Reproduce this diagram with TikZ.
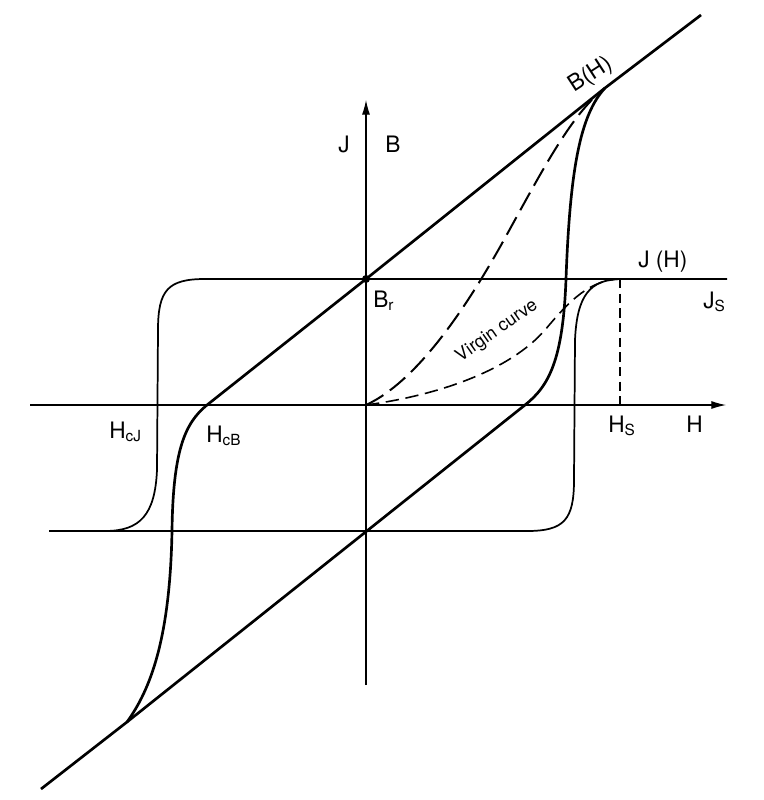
\documentclass[tikz,border=0pt]{standalone}
\usepackage{fontspec}
\setmainfont{TeX Gyre Heros}
\usetikzlibrary{arrows.meta}
\newcommand\lsub[1]{\raisebox{-0.3ex}{\fontsize{11.5}{12}\selectfont #1}}
\begin{document}
\begin{tikzpicture}[x=0.75pt,y=-0.75pt,
  axis/.style={line width=0.8pt},
  axisarrow/.style={axis,-{Latex[length=11pt,width=6pt]}},
  jloop/.style={line width=1.3pt,line join=round},
  bloop/.style={line width=2pt,line join=round},
  bvirgin/.style={line width=1.5pt,dash pattern=on 15pt off 6pt},
  jvirgin/.style={line width=1.2pt,dash pattern=on 10pt off 5pt},
  hsline/.style={line width=1pt,dash pattern=on 7pt off 4pt},
  lbl/.style={font=\fontsize{17}{20}\selectfont,inner sep=0pt,anchor=base west},
  small/.style={font=\fontsize{13.5}{15}\selectfont,inner sep=0pt}]
\useasboundingbox (0,0) rectangle (764,800);
% key points
\coordinate (O) at (366,405);
\coordinate (Br) at (366,279);
\coordinate (Bsat) at (605,88);
\coordinate (Bneg) at (127,722);
\coordinate (Jsat) at (620,279);
\coordinate (Hs) at (620,405);
\coordinate (Hend) at (726,405);
\coordinate (Hstart) at (30,405);
\coordinate (Vtop) at (366,100);
\coordinate (Vbot) at (366,685);
% axes
\draw[axisarrow] (Hstart) -- (Hend);
\draw[axisarrow] (Vbot) -- (Vtop);
% J loop
\draw[jloop] (727,279) -- (205,279) .. controls (168,279) and (158,290) .. (158,330)
  -- (157,470) .. controls (155,515) and (140,531) .. (105,531) -- (49,531);
\draw[jloop] (105,531) -- (527,531) .. controls (564,531) and (574,520) .. (574,480)
  -- (575,340) .. controls (577,295) and (590,280) .. (Jsat);
% B loop
\draw[bloop] (701,15) -- (Bsat) -- (Br) -- (207,405)
  .. controls (185,423) and (173,450) .. (172,531)
  .. controls (170,640) and (150,690) .. (Bneg) -- (41,789);
\draw[bloop] (Bneg) -- (525,405)
  .. controls (549,386) and (563,360) .. (566,279)
  .. controls (570,170) and (580,115) .. (Bsat);
% virgin curves
\draw[bvirgin] (O) .. controls (420,380) and (470,300) .. (500,247)
  .. controls (540,175) and (570,115) .. (Bsat);
\draw[jvirgin] (O) .. controls (440,395) and (510,370) .. (545,330)
  .. controls (570,300) and (590,280) .. (Jsat);
\draw[hsline] (Jsat) -- (Hs);
\fill (Br) circle (3pt);
% labels
\node[lbl] (lJ) at (338,152) {J};
\node[lbl] (lB) at (385,152) {B};
\node[lbl,anchor=center,rotate=33] (lBH) at (591,75) {B(H)};
\node[lbl] (lJH) at (638,267) {J (H)};
\node[lbl] (lJs) at (703,308) {J\lsub{S}};
\node[lbl] (lBr) at (373,307) {B\lsub{r}};
\node[lbl] (lHs) at (608,432) {H\lsub{S}};
\node[lbl] (lH) at (686,432) {H};
\node[lbl] (lHcJ) at (109,438) {H\lsub{cJ}};
\node[lbl] (lHcB) at (206,442) {H\lsub{cB}};
\node[small,rotate=35] (lvirgin) at (497,331) {Virgin curve};
\end{tikzpicture}
\end{document}
